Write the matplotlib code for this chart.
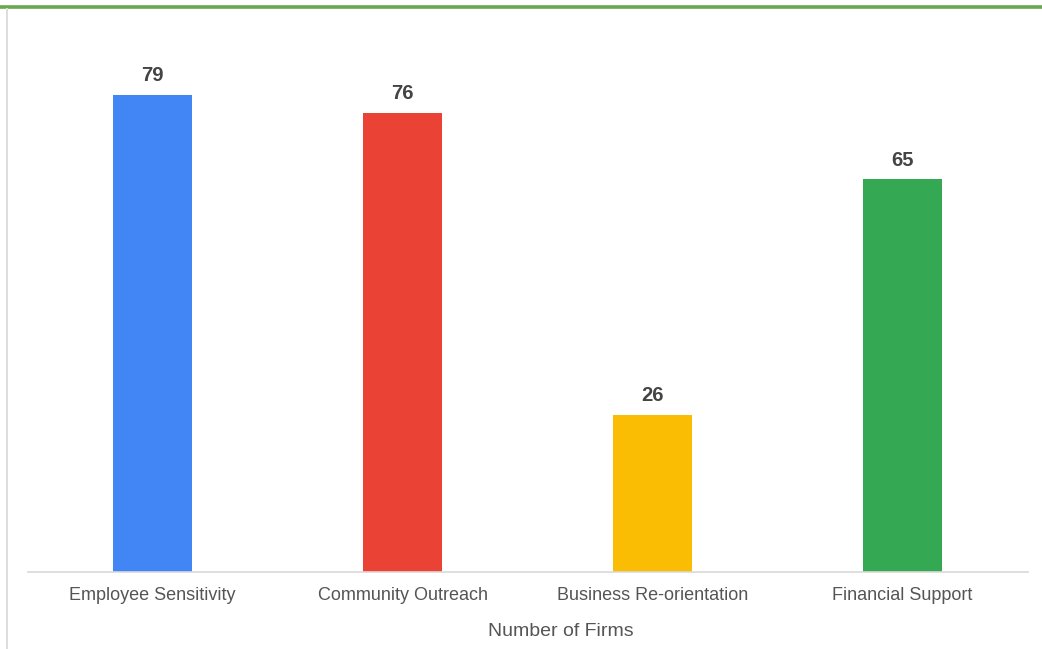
import matplotlib.pyplot as plt
from matplotlib.lines import Line2D

categories = ['Employee Sensitivity', 'Community Outreach', 'Business Re-orientation', 'Financial Support']
firms = [79, 76, 26, 65]
colors = ['#4285f4', '#ea4335', '#fbbc04', '#34a853']

plt.rcParams['font.family'] = ['Liberation Sans', 'DejaVu Sans']

W, H = 1042, 649
fig = plt.figure(figsize=(W / 100, H / 100), dpi=100)

# plot area in pixels: x 27.5..1027.5, baseline at y=572
left, right, base, top = 27.5, 1027.5, 572, 20
ax = fig.add_axes([left / W, 1 - base / H, (right - left) / W, (base - top) / H])

x = range(len(categories))
ax.bar(x, firms, width=0.316, color=colors, zorder=2)
for xi, v in zip(x, firms):
    ax.annotate(str(v), (xi, v), xytext=(0, 7), textcoords='offset points',
                ha='center', va='bottom', fontsize=14.5, fontweight='bold', color='#444444')

ax.set_xlim(-0.5, 3.5)
ax.set_ylim(0, (base - top) / 6.04)
ax.set_xticks(list(x))
ax.set_xticklabels(categories, fontsize=13, color='#555555')
ax.tick_params(axis='x', length=0, pad=11)
ax.set_yticks([])
for side in ['top', 'right', 'left']:
    ax.spines[side].set_visible(False)
ax.spines['bottom'].set_color('#d9d9d9')
ax.spines['bottom'].set_linewidth(1.2)

fig.text(561 / W, 1 - 631 / H, 'Number of Firms', fontsize=14, color='#555555',
         ha='center', va='center')

# frame lines around the chart
fig.add_artist(Line2D([0, 1], [1 - 7 / H, 1 - 7 / H], color='#6aa84f', linewidth=2.6))
fig.add_artist(Line2D([7 / W, 7 / W], [0, 1 - 8.5 / H], color='#dddddd', linewidth=1.4))

fig.savefig('out.png', dpi=100)
